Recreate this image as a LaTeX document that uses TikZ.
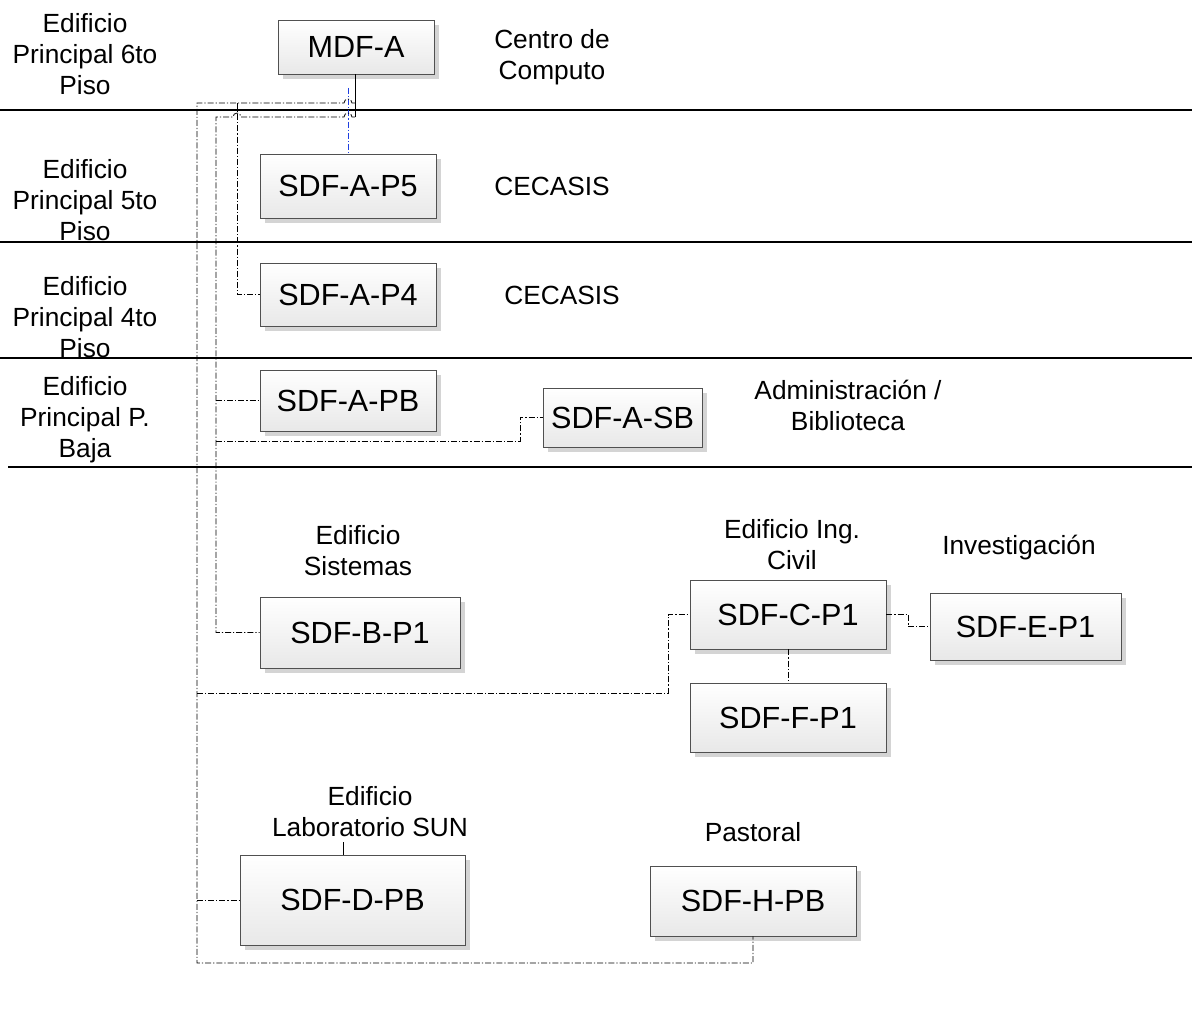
\documentclass[tikz,border=0pt]{standalone}
\usepackage{fontspec}
\setmainfont{Liberation Sans}
\usetikzlibrary{shadows}
\definecolor{boxline}{HTML}{505050}
\definecolor{boxbot}{HTML}{E8E8E8}
\definecolor{shade}{HTML}{D4D4D4}
\definecolor{linkblue}{HTML}{1F3FE0}
\tikzset{
  unit/.style={draw=boxline, line width=0.9pt, top color=white, bottom color=boxbot,
    drop shadow={shadow xshift=5pt, shadow yshift=-5pt, fill=shade, opacity=1},
    font=\fontsize{30.6}{34}\selectfont, inner sep=0pt, anchor=center},
  tag/.style={font=\fontsize{26.3}{31}\selectfont, align=center, inner sep=0pt},
  floor/.style={line width=1.3pt, black},
  link/.style={line width=0.8pt, black, dash pattern=on 6pt off 2pt on 1.2pt off 2pt},
  bluelink/.style={line width=0.8pt, linkblue, dash pattern=on 6pt off 2pt on 1.2pt off 2pt}
}
\begin{document}
\begin{tikzpicture}[x=1pt,y=-1pt]
\useasboundingbox (0,0) rectangle (1192,1024);

% floor separators
\draw[floor] (0,110) -- (1192,110);
\draw[floor] (0,242) -- (1192,242);
\draw[floor] (0,358) -- (1192,358);
\draw[floor] (8,467) -- (1192,467);

% floor names
\node[tag] (f6) at (85,54) {Edificio\\Principal 6to\\Piso};
\node[tag] (f5) at (85,200) {Edificio\\Principal 5to\\Piso};
\node[tag] (f4) at (85,317) {Edificio\\Principal 4to\\Piso};
\node[tag] (f0) at (85,420) {Edificio\\Principal P.\\Baja};

% area names
\node[tag] (lcc) at (552,57) {Centro de\\Computo};
\node[tag] (lc5) at (552,186) {CECASIS};
\node[tag] (lc4) at (562,295) {CECASIS};
\node[tag] (lad) at (848,405) {Administración /\\Biblioteca};
\node[tag] (lsi) at (358,551) {Edificio\\Sistemas};
\node[tag] (lic) at (792,545) {Edificio Ing.\\Civil};
\node[tag] (lin) at (1019,548) {Investigación};
\node[tag] (lsu) at (370,812) {Edificio\\Laboratorio SUN};
\node[tag] (lpa) at (753,832) {Pastoral};

% distribution frames
\node[unit, minimum width=156pt, minimum height=54pt] (mdf) at (356,47) {MDF-A};
\node[unit, minimum width=176pt, minimum height=64pt] (p5) at (348,186) {SDF-A-P5};
\node[unit, minimum width=176pt, minimum height=63pt] (p4) at (348,294.5) {SDF-A-P4};
\node[unit, minimum width=176pt, minimum height=61pt] (pb) at (348,400.5) {SDF-A-PB};
\node[unit, minimum width=159pt, minimum height=59pt] (sb) at (622.5,417.5) {SDF-A-SB};
\node[unit, minimum width=200pt, minimum height=71pt] (b1) at (360,632.5) {SDF-B-P1};
\node[unit, minimum width=196pt, minimum height=69pt] (c1) at (788,614.5) {SDF-C-P1};
\node[unit, minimum width=191pt, minimum height=67pt] (e1) at (1025.5,626.5) {SDF-E-P1};
\node[unit, minimum width=196pt, minimum height=69pt] (f1) at (788,717.5) {SDF-F-P1};
\node[unit, minimum width=225pt, minimum height=90pt] (d) at (352.5,900) {SDF-D-PB};
\node[unit, minimum width=206pt, minimum height=70pt] (h) at (753,901) {SDF-H-PB};

% junction points
\coordinate (tap) at (355,117);
\coordinate (ra) at (197,103);
\coordinate (rb) at (216,117);
\coordinate (rc) at (237,103);
\coordinate (bluetop) at (348,88);

% riser from MDF-A
\draw[line width=0.9pt] (mdf.south -| tap) -- (tap);

% blue link to SDF-A-P5
\draw[bluelink] (bluetop) -- (p5.north -| bluetop);

% outer trunk
\draw[link] (355,103) -- (352,103) arc[start angle=0, end angle=180, radius=4pt] -- (ra)
  -- (197,963) -- (h.south |- 0,963) -- (h.south);
\draw[link] (d.west -| ra) -- (d.west);
\draw[link] (197,693) -- (668,693) -- (668,614.5) -- (c1.west);
\draw[link] (rc) -- (237,294.5) -- (p4.west);

% inner trunk
\draw[link] (tap) -- (352,117) arc[start angle=0, end angle=180, radius=4pt]
  -- (241,117) arc[start angle=0, end angle=180, radius=4pt] -- (rb) -- (216,632.5) -- (b1.west);
\draw[link] (216,400.5) -- (pb.west);
\draw[link] (216,441) -- (520,441) -- (520,417.5) -- (sb.west);

% Ing. Civil branches
\draw[link] (c1.east) -- (908,614.5) -- (908,626.5) -- (e1.west);
\draw[link] (c1.south) -- (f1.north);

% stub above SDF-D-PB
\draw[line width=0.8pt] (343,842) -- (d.north -| 343,0);
\end{tikzpicture}
\end{document}
